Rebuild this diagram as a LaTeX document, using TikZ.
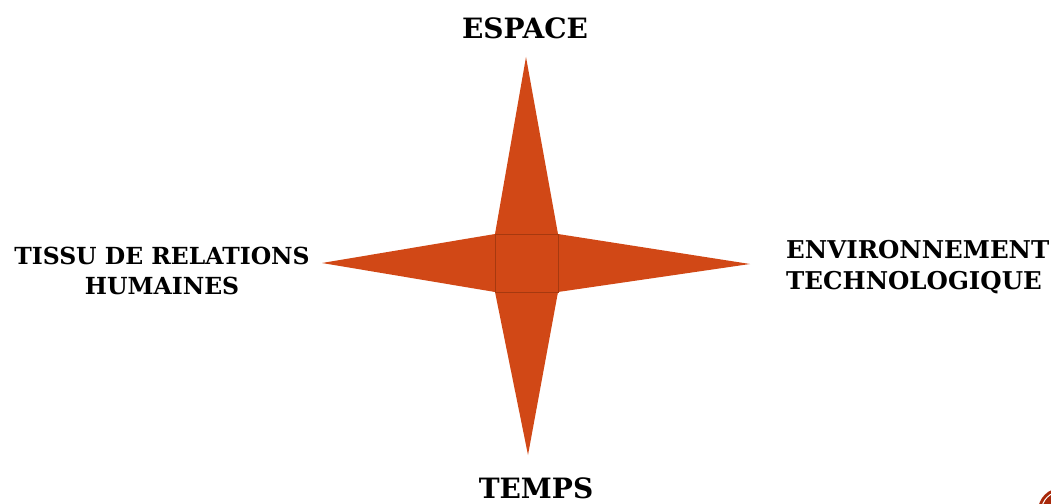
\documentclass[tikz,border=0pt]{standalone}
\usepackage{fontspec}
\setmainfont{DejaVu Serif}
\definecolor{starfill}{HTML}{D14816}
\definecolor{stardraw}{HTML}{A6390F}
\definecolor{dotred}{HTML}{A8280A}
\begin{document}
\begin{tikzpicture}[x=1pt,y=-1pt,
  arm/.style={fill=starfill,draw=none},
  lbl/.style={font=\bfseries\fontsize{23.5}{30}\selectfont,align=center,inner sep=0pt},
  bigl/.style={font=\bfseries\fontsize{28}{34}\selectfont,inner sep=0pt}]
\useasboundingbox (0,0) rectangle (1051,503);
\coordinate (nw) at (495,234);
\coordinate (ne) at (558,234);
\coordinate (se) at (558,292);
\coordinate (sw) at (495,292);
\coordinate (tn) at (526,57);
\coordinate (ts) at (528,455);
\coordinate (tw) at (322,263);
\coordinate (te) at (750,264);
\fill[arm] (nw) -- (tn) -- (ne) -- cycle;
\fill[arm] (sw) -- (ts) -- (se) -- cycle;
\fill[arm] (nw) -- (tw) -- (sw) -- cycle;
\fill[arm] (ne) -- (te) -- (se) -- cycle;
\filldraw[fill=starfill,draw=stardraw,line width=0.8pt] (nw) rectangle (se);
\node[bigl] (espace) at (525,28) {ESPACE};
\node[bigl] (temps) at (536,488) {TEMPS};
\node[lbl] (tissu) at (162,271) {TISSU DE RELATIONS\\HUMAINES};
\node[lbl,align=left,font=\bfseries\fontsize{24.5}{31}\selectfont,anchor=west] (env) at (786,267) {ENVIRONNEMENT\\TECHNOLOGIQUE};
\begin{scope}
\clip (0,0) rectangle (1051,503);
\fill[dotred] (1061,511) circle (23);
\draw[white,line width=1pt] (1061,511) circle (19.5);
\end{scope}
\end{tikzpicture}
\end{document}
